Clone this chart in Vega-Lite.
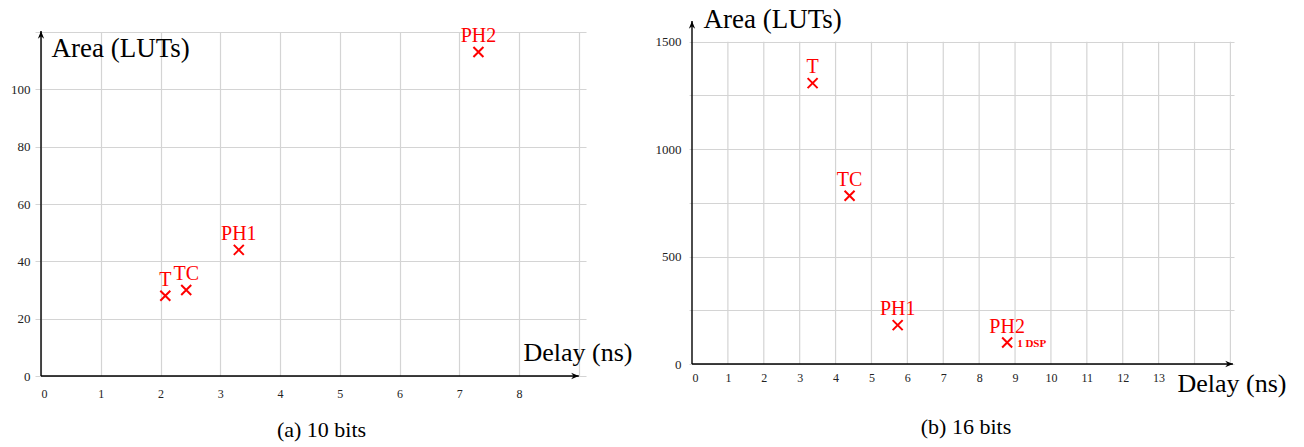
{
  "$schema": "https://vega.github.io/schema/vega-lite/v6.json",
  "padding": {"left": 10, "top": 5, "right": 5, "bottom": 2},
  "background": "white",
  "spacing": 106,
  "bounds": "flush",
  "config": {
    "view": {"stroke": null},
    "font": "Liberation Serif",
    "axis": {
      "labelFont": "Liberation Serif",
      "labelColor": "#222222",
      "titleFont": "Liberation Serif",
      "titleFontWeight": "normal",
      "titleColor": "black",
      "titleFontSize": 26,
      "gridColor": "#d4d4d4",
      "gridWidth": 1.2,
      "domain": false
    },
    "title": {"font": "Liberation Serif", "fontWeight": "normal", "fontSize": 22, "color": "black"}
  },
  "hconcat": [
    {
      "width": 545,
      "height": 344,
      "title": {"text": "(a) 10 bits", "orient": "bottom", "offset": 21, "dx": 8},
      "encoding": {
        "x": {
          "field": "delay", "type": "quantitative",
          "scale": {"domain": [0, 9.12], "nice": false, "zero": false},
          "axis": {
            "values": [0, 1, 2, 3, 4, 5, 6, 7, 8, 9],
            "labelExpr": "datum.value == 9 ? '' : datum.label",
            "format": "d",
            "ticks": false,
            "labelFontSize": 12,
            "labelPadding": 12,
            "title": "Delay (ns)",
            "titleAlign": "left",
            "titleBaseline": "alphabetic",
            "titleAngle": 0,
            "titleX": 482,
            "titleY": -16
          }
        },
        "y": {
          "field": "luts", "type": "quantitative",
          "scale": {"domain": [0, 120], "nice": false, "zero": false},
          "axis": {
            "values": [0, 20, 40, 60, 80, 100, 120],
            "labelExpr": "datum.value == 120 ? '' : datum.label",
            "format": "d",
            "ticks": true,
            "tickSize": 6,
            "tickColor": "#d4d4d4",
            "labelFontSize": 13,
            "labelPadding": 5,
            "title": "Area (LUTs)",
            "titleFontSize": 27,
            "titleAlign": "left",
            "titleBaseline": "alphabetic",
            "titleAngle": 0,
            "titleX": 10,
            "titleY": 24
          }
        }
      },
      "layer": [
        {
          "data": {"values": [
            {"delay": 0, "luts": 0, "delay2": 9, "luts2": 0},
            {"delay": 0, "luts": 0, "delay2": 0, "luts2": 120.35}
          ]},
          "mark": {"type": "rule", "color": "black", "strokeWidth": 1.4},
          "encoding": {"x2": {"field": "delay2"}, "y2": {"field": "luts2"}}
        },
        {
          "data": {"values": [{"delay": 9, "luts": 0}]},
          "mark": {"type": "point", "shape": "M0,0L-2.2,-0.9L-1.5,0L-2.2,0.9Z", "filled": true, "color": "black", "opacity": 1, "size": 49, "angle": 0}
        },
        {
          "data": {"values": [{"delay": 0, "luts": 120.35}]},
          "mark": {"type": "point", "shape": "M0,0L-2.2,-0.9L-1.5,0L-2.2,0.9Z", "filled": true, "color": "black", "opacity": 1, "size": 49, "angle": 270}
        },
        {
          "data": {"values": [
            {"name": "T", "delay": 2.08, "luts": 28},
            {"name": "TC", "delay": 2.43, "luts": 30},
            {"name": "PH1", "delay": 3.31, "luts": 44},
            {"name": "PH2", "delay": 7.32, "luts": 113}
          ]},
          "layer": [
            {"mark": {"type": "point", "shape": "M-1,-1L1,1M-1,1L1,-1", "filled": false, "color": "red", "opacity": 1, "strokeWidth": 2, "size": 100}},
            {"mark": {"type": "text", "color": "red", "font": "Liberation Serif", "fontSize": 20, "dy": -10, "baseline": "alphabetic", "align": "center"},
             "encoding": {"text": {"field": "name"}}}
          ]
        }
      ]
    },
    {
      "width": 542,
      "height": 332,
      "title": {"text": "(b) 16 bits", "orient": "bottom", "offset": 21, "dx": 3},
      "encoding": {
        "x": {
          "field": "delay", "type": "quantitative",
          "scale": {"domain": [0, 15.1], "nice": false, "zero": false},
          "axis": {
            "values": [0, 1, 2, 3, 4, 5, 6, 7, 8, 9, 10, 11, 12, 13, 14, 15],
            "labelExpr": "datum.value > 13 ? '' : datum.label",
            "format": "d",
            "ticks": false,
            "grid": false,
            "labelFontSize": 12,
            "labelPadding": 8,
            "title": "Delay (ns)",
            "titleAlign": "left",
            "titleBaseline": "alphabetic",
            "titleAngle": 0,
            "titleX": 485,
            "titleY": 27
          }
        },
        "y": {
          "field": "luts", "type": "quantitative",
          "scale": {"domain": [0, 1545], "nice": false, "zero": false},
          "axis": {
            "values": [0, 250, 500, 750, 1000, 1250, 1500],
            "labelExpr": "datum.value % 500 == 0 ? datum.label : ''",
            "format": "d",
            "ticks": true,
            "tickSize": 3,
            "tickColor": "#d4d4d4",
            "labelFontSize": 13,
            "labelPadding": 8,
            "title": "Area (LUTs)",
            "titleFontSize": 27,
            "titleAlign": "left",
            "titleBaseline": "alphabetic",
            "titleAngle": 0,
            "titleX": 11,
            "titleY": -5
          }
        }
      },
      "layer": [
        {
          "data": {"values": [
            {"delay": 1, "luts": 0, "luts2": 1500},
            {"delay": 2, "luts": 0, "luts2": 1500},
            {"delay": 3, "luts": 0, "luts2": 1500},
            {"delay": 4, "luts": 0, "luts2": 1500},
            {"delay": 5, "luts": 0, "luts2": 1500},
            {"delay": 6, "luts": 0, "luts2": 1500},
            {"delay": 7, "luts": 0, "luts2": 1500},
            {"delay": 8, "luts": 0, "luts2": 1500},
            {"delay": 9, "luts": 0, "luts2": 1500},
            {"delay": 10, "luts": 0, "luts2": 1500},
            {"delay": 11, "luts": 0, "luts2": 1500},
            {"delay": 12, "luts": 0, "luts2": 1500},
            {"delay": 13, "luts": 0, "luts2": 1500},
            {"delay": 14, "luts": 0, "luts2": 1500},
            {"delay": 15, "luts": 0, "luts2": 1500}
          ]},
          "mark": {"type": "rule", "color": "#d4d4d4", "strokeWidth": 1.2},
          "encoding": {"y2": {"field": "luts2"}}
        },
        {
          "data": {"values": [
            {"delay": 0, "luts": 0, "delay2": 15.07, "luts2": 0},
            {"delay": 0, "luts": 0, "delay2": 0, "luts2": 1596}
          ]},
          "mark": {"type": "rule", "color": "black", "strokeWidth": 1.4},
          "encoding": {"x2": {"field": "delay2"}, "y2": {"field": "luts2"}}
        },
        {
          "data": {"values": [{"delay": 15.07, "luts": 0}]},
          "mark": {"type": "point", "shape": "M0,0L-2.2,-0.9L-1.5,0L-2.2,0.9Z", "filled": true, "color": "black", "opacity": 1, "size": 49, "angle": 0}
        },
        {
          "data": {"values": [{"delay": 0, "luts": 1596}]},
          "mark": {"type": "point", "shape": "M0,0L-2.2,-0.9L-1.5,0L-2.2,0.9Z", "filled": true, "color": "black", "opacity": 1, "size": 49, "angle": 270}
        },
        {
          "data": {"values": [
            {"name": "T", "delay": 3.36, "luts": 1307, "note": ""},
            {"name": "TC", "delay": 4.39, "luts": 783, "note": ""},
            {"name": "PH1", "delay": 5.73, "luts": 181, "note": ""},
            {"name": "PH2", "delay": 8.78, "luts": 100, "note": "1 DSP"}
          ]},
          "layer": [
            {"mark": {"type": "point", "shape": "M-1,-1L1,1M-1,1L1,-1", "filled": false, "color": "red", "opacity": 1, "strokeWidth": 2, "size": 100}},
            {"mark": {"type": "text", "color": "red", "font": "Liberation Serif", "fontSize": 20, "dy": -10, "baseline": "alphabetic", "align": "center"},
             "encoding": {"text": {"field": "name"}}},
            {"mark": {"type": "text", "color": "red", "font": "Liberation Serif", "fontSize": 11, "fontWeight": "bold", "dx": 10, "dy": 1, "baseline": "middle", "align": "left"},
             "encoding": {"text": {"field": "note"}}}
          ]
        }
      ]
    }
  ]
}
